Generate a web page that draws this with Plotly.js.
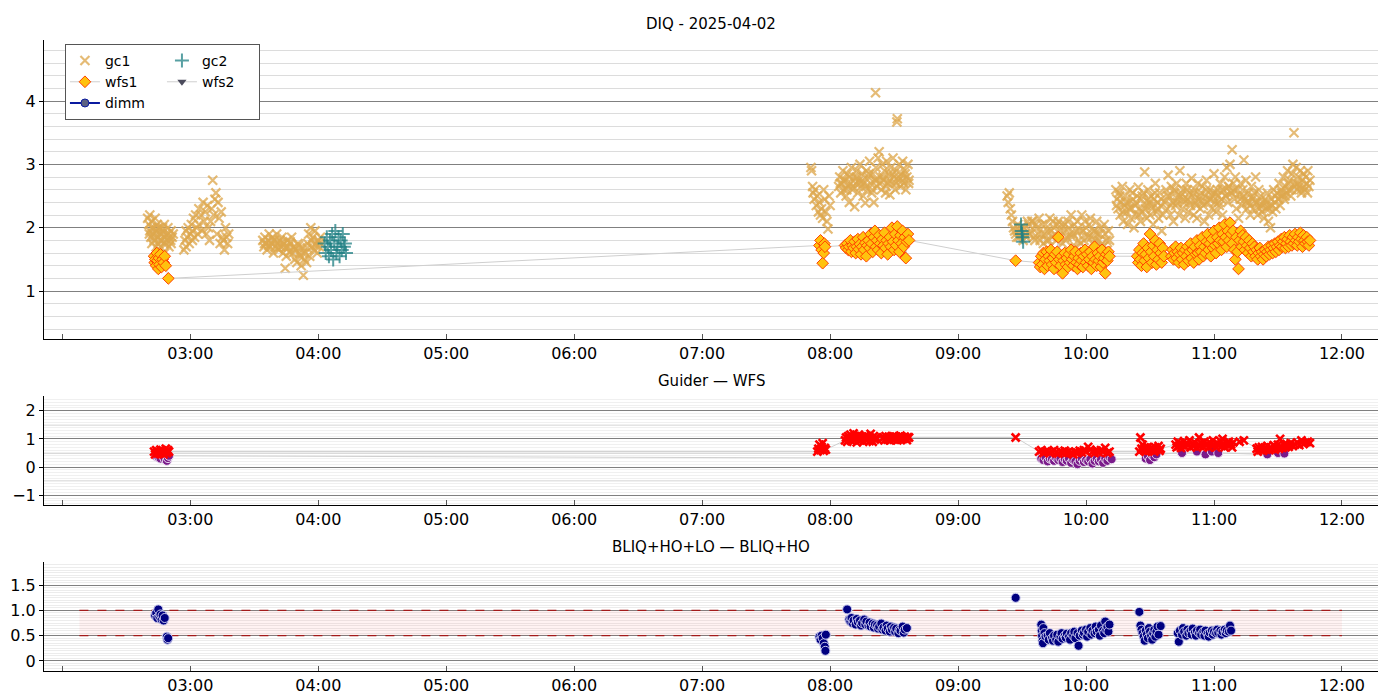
<!DOCTYPE html>
<html>
<head>
<meta charset="utf-8">
<script src="https://cdn.plot.ly/plotly-3.0.1.min.js"></script>
<style>body{margin:0;background:#fff}</style>
</head>
<body>
<div id="chart" style="width:1400px;height:700px"></div>
<script>
// DIQ night 2025-04-02 -- all times are minutes after 00:00

const day = "2025-04-02";

// x axis hours (02:00 tick carries no label)
const hourTicks = [120, 180, 240, 300, 360, 420, 480, 540, 600, 660, 720];
const hourLabels = ["", "03:00", "04:00", "05:00", "06:00", "07:00", "08:00", "09:00", "10:00", "11:00", "12:00"];

// ---- top panel: DIQ ----
// gc1 (markers only)
const gc1Times = [
  160,160.5,161,161,161.5,162,162,162.5,163,163,163.5,164,164,164.5,165,165,165.5,166,166,166.5,167,167,167.5,168,168,168.5,169,169.5,170,170,171,171,172,
  160.8,161.8,162.8,163.8,164.8,165.8,166.8,167.8,168.8,169.8,170.8,171.5,
  177,177.5,178,178,178.5,179,179.5,180,180.5,181,181,181.5,182,182.5,183,183.5,184,184,185,185.5,186,186.5,187,187.5,188,
  188.5,189,189.5,190,190.5,191,191.5,192,192.5,193,193.5,194,194.5,195,195.5,196,196.5,197,197.5,198,
  214,214.5,215,215.5,216,216.5,217,217.5,218,218.5,219,219.5,220,220.5,221,221.5,222,222.5,223,223.5,
  224,224.5,224.5,225,225.5,226,226.5,227,227.5,228,228.5,229,229.5,230,230.5,231,231.5,232,232.5,233,
  233.5,234,234.5,235,235.5,236,236.5,237,237.5,238,238.5,239,239.5,240,240.5,241,
  214.8,216.8,218.8,220.8,222.8,224.8,226.8,228.8,230.8,232.8,234.8,236.8,238.8,240.8,
  471,471.3,471.8,472,472.5,473,473.5,474,474.5,475,475.5,476,476.5,477,477.5,478,478.5,479,479.5,480,
  484,484.5,485,485.5,486,486.5,487,487.5,488,488.5,489,489.5,490,490.5,491,491.5,492,492.5,493,493.5,
  494,494.5,495,495.5,496,496.5,497,497.5,498,498.5,499,499.5,500,500.5,501,501.3,501.5,502,502.5,503,
  503.5,504,504.5,505,505.5,506,506.5,507,507.5,508,508.5,509,509.5,510,510.5,511,511.3,511.5,512,512.5,
  513,513.5,514,514.5,515,515.5,516,516.5,517,
  484.8,486.2,487.8,489.2,490.8,492.2,493.8,495.2,496.8,498.2,499.8,501.8,503.2,504.8,506.2,507.8,509.2,510.8,512.2,513.8,515.2,516.8,
  563,563.5,564,564.5,565,565.5,566,566.5,567,567.5,568,569,570,571,572,573,574,574.5,575,576,
  577,578,579,580,581,582,582.5,583,584,585,586,587,588,588.5,589,590,591,592,593,594,
  595,596,597,597.5,598,599,600,601,602,603,604,605,605.5,606,607,608,609,610,611,
  568.5,569.5,570.5,571.5,572.5,573.5,575.5,576.5,577.5,578.5,579.5,580.5,581.5,583.5,584.5,585.5,586.5,587.5,589.5,590.5,
  591.5,592.5,593.5,594.5,595.5,596.5,598.5,599.5,600.5,601.5,602.5,603.5,604.5,606.5,607.5,608.5,609.5,610.5,
  614,614.5,615,615.5,616,616.5,617,617.5,618,618.5,619,619.5,620,620.5,621,621.5,622,622.5,623,623.5,
  624,624.5,625,625.5,626,626.5,627,627.5,628,628.5,629,629.5,630,630.5,631,631.5,632,632.5,633,633.5,
  634,634.5,635,635.5,636,
  637,637.5,638,638.5,639,639.5,640,640.5,641,641.5,642,642.5,643,643.5,644,644.5,645,645.5,646,646.5,
  647,647.5,648,648.5,649,649.5,650,650.5,651,651.5,652,652.5,653,653.5,654,654.5,655,655.5,656,656.5,
  657,657.5,658,658.5,659,659.5,660,660.5,661,661.5,662,662.5,663,663.5,664,664.5,665,665.5,666,666.5,
  667,667.5,668,668.5,669,669.5,670,670.5,671,671.5,
  672,672.5,673,673.5,674,674.5,675,675.5,676,676.5,677,677.5,678,678.5,679,679.5,680,680.5,681,681.5,
  682,682.5,683,683.5,684,684.5,685,685.5,686,686.5,687,687.5,688,688.5,689,689.5,690,690.5,691,691.5,
  692,692.5,693,693.5,694,694.5,695,695.5,696,696.5,697,697.5,698,698.5,699,699.5,700,700.5,701,701.5,
  702,702.5,703,703.5,704,704.5,705,
  614.3,615.8,617.3,618.8,620.3,621.8,623.3,624.8,626.3,627.8,629.3,630.8,632.3,633.8,635.3,638.3,639.8,641.3,642.8,644.3,
  645.8,647.3,648.8,650.3,651.8,653.3,654.8,656.3,657.8,659.3,660.8,662.3,663.8,665.3,666.8,668.3,669.8,672.3,673.8,675.3,
  676.8,678.3,679.8,681.3,682.8,684.3,685.8,687.3,688.8,690.3,691.8,693.3,694.8,696.3,697.8,699.3,700.8,702.3,703.8
];
const gc1Vals = [
  2.15,2.05,1.95,2.2,1.85,2.1,1.75,1.9,2.0,1.8,2.15,1.7,1.95,2.05,1.85,1.75,2.0,1.9,1.7,1.8,1.95,2.0,1.75,1.85,1.6,1.9,1.8,2.0,1.7,1.85,1.95,1.75,1.9,
  1.9,2.0,1.85,1.95,2.0,1.8,1.9,2.05,1.75,1.9,1.8,1.85,
  1.65,1.8,1.95,1.7,1.85,2.0,1.75,1.9,2.05,1.8,1.95,2.15,1.85,2.2,2.0,1.9,2.3,2.05,2.2,1.95,2.4,2.1,2.25,1.9,2.35,
  2.0,1.8,2.1,2.3,2.75,2.2,2.45,2.55,1.9,2.4,2.15,1.75,2.25,1.85,1.8,1.65,2.0,1.85,1.75,1.9,
  1.8,1.7,1.85,1.75,1.65,1.8,1.9,1.7,1.75,1.85,1.6,1.8,1.7,1.9,1.75,1.65,1.8,1.7,1.85,1.6,
  1.75,1.68,1.36,1.55,1.8,1.7,1.62,1.75,1.85,1.6,1.7,1.5,1.65,1.45,1.75,1.6,1.55,1.4,1.7,1.25,
  1.5,1.6,1.45,1.75,1.9,1.55,2.0,1.7,1.85,1.65,1.95,1.75,1.6,1.8,1.7,1.85,
  1.75,1.72,1.8,1.68,1.76,1.7,1.78,1.66,1.72,1.6,1.68,1.8,1.72,1.76,
  2.95,2.9,2.65,2.55,2.45,2.6,2.35,2.5,2.25,2.4,2.2,2.3,2.15,2.6,2.45,2.25,2.1,1.98,2.5,2.35,
  2.65,2.8,2.55,2.7,2.9,2.6,2.75,2.5,2.85,2.65,2.4,2.7,2.95,2.6,2.8,2.33,2.7,2.9,2.55,2.75,
  3.0,2.65,2.85,2.5,2.7,2.39,2.9,2.6,2.8,3.05,2.7,2.55,2.85,2.4,2.75,4.13,2.95,2.65,3.1,3.2,
  2.8,2.6,3.0,2.75,2.9,2.55,3.05,2.7,2.85,2.52,2.95,2.7,3.1,2.8,2.6,2.9,3.67,3.72,2.75,3.0,
  2.65,2.85,3.05,2.7,2.9,2.6,2.8,3.0,2.75,
  2.7,2.75,2.6,2.8,2.65,2.8,2.7,2.75,2.65,2.85,2.6,2.75,2.7,2.8,2.65,2.75,2.85,2.7,2.8,2.75,2.85,2.7,
  2.5,2.4,2.55,2.3,2.2,2.1,2.0,1.95,1.9,1.85,2.05,1.95,1.9,2.0,1.85,2.05,1.95,2.1,2.1,1.8,
  2.0,2.15,1.9,1.75,2.05,1.95,1.8,2.15,1.85,2.0,1.8,2.1,1.95,2.05,1.75,2.05,1.85,2.0,2.2,1.9,
  1.7,2.1,1.95,1.75,2.2,1.8,2.0,1.85,2.15,1.75,1.95,2.1,1.9,1.8,2.0,1.7,1.9,1.65,1.8,
  1.85,2.0,1.8,1.9,2.1,1.9,1.85,2.05,1.9,1.8,2.05,1.9,1.8,1.95,2.1,1.9,2.05,1.85,1.95,1.8,
  2.1,1.9,1.85,2.05,1.95,1.8,1.95,2.1,1.9,2.05,1.85,1.95,1.8,1.9,1.75,2.05,1.8,1.95,
  2.6,2.45,2.3,2.55,2.2,2.4,2.65,2.1,2.35,2.5,2.25,2.05,2.4,2.6,2.15,2.3,2.45,2.0,2.35,2.2,
  2.5,2.64,2.3,2.1,2.45,2.25,2.55,2.88,2.35,2.15,2.6,2.4,2.2,2.5,2.3,2.05,2.45,2.7,2.25,2.4,
  2.15,2.55,2.35,1.95,2.2,
  2.4,2.6,2.3,2.83,2.5,2.2,2.65,2.4,2.1,2.55,2.35,2.7,2.45,2.2,2.9,2.55,2.3,2.6,2.4,2.15,
  2.7,2.45,2.25,2.55,2.35,2.78,2.5,2.2,2.6,2.4,2.15,2.7,2.45,2.3,2.55,2.65,2.35,2.1,2.5,2.75,
  2.4,2.2,2.6,2.45,2.3,2.55,2.85,2.4,2.25,2.6,2.5,2.35,2.7,2.45,2.2,2.6,2.8,2.5,2.95,2.4,
  2.65,3.0,2.55,3.23,2.7,2.45,2.8,2.3,2.6,2.15,
  2.5,2.7,2.35,2.6,3.07,2.45,2.75,2.3,2.55,2.4,2.2,2.65,2.45,2.3,2.55,2.8,2.4,2.2,2.6,2.35,
  2.5,2.25,2.4,2.15,2.45,2.3,2.55,2.1,2.35,2.0,2.45,2.25,2.6,2.4,2.3,2.55,2.45,2.7,2.35,2.6,
  2.5,2.8,2.45,2.65,2.55,2.9,2.6,2.75,2.5,2.85,3.0,3.5,2.7,2.95,2.6,2.8,2.65,2.9,2.55,2.75,
  2.85,2.6,2.8,2.7,2.9,2.65,2.75,
  2.35,2.5,2.25,2.4,2.3,2.55,2.4,2.2,2.5,2.3,2.45,2.35,2.55,2.3,2.45,2.5,2.35,2.6,2.4,2.5,
  2.45,2.6,2.4,2.55,2.35,2.5,2.4,2.6,2.45,2.5,2.55,2.4,2.6,2.5,2.65,2.55,2.6,2.45,2.5,2.4,
  2.35,2.5,2.4,2.3,2.35,2.4,2.3,2.35,2.5,2.45,2.55,2.5,2.7,2.6,2.65,2.7,2.6,2.65,2.55
];

// gc2
const gc2Times = [243,243.5,244,244.5,245,245.5,246,246.5,247,247.5,248,248.5,249,249.5,250,250.5,251,251.5,252,252.5,253,
  569.5,569.8,570,570.2,570.5];
const gc2Vals = [1.75,1.6,1.85,1.7,1.55,1.8,1.65,1.9,1.5,1.75,1.95,1.6,1.7,1.85,1.55,1.8,1.65,1.9,1.7,1.75,1.6,
  2.05,1.95,1.9,1.85,1.78];

// wfs1 (joined by a thin line, time ordered)
const wfs1Times = [
  163,163.3,163.6,164,164.3,164.6,165,165.3,165.6,166,166.5,167,167.5,168,168.5,169.7,
  475,475.5,476,476.5,477,477.3,477.6,
  487,487.5,488,488.5,489,489.5,490,490.5,491,491.5,492,492.5,493,493.5,494,494.5,495,495.5,496,496.5,
  497,497.5,498,498.5,499,499.5,500,500.5,501,501.5,502,502.5,503,503.5,504,504.5,505,505.5,506,506.5,
  507,507.5,508,508.5,509,509.5,510,510.5,511,511.5,512,512.5,513,513.5,514,514.5,515,515.5,516,516.5,517,
  567,
  578,578.5,579,579.5,580,580.5,581,581.5,582,582.5,583,583.5,584,584.5,585,585.5,586,586.5,587,587.5,
  588,588.5,589,589.5,590,590.5,591,591.5,592,592.5,593,593.5,594,594.5,595,595.5,596,596.5,597,597.5,
  598,598.5,599,599.5,600,600.5,601,601.5,602,602.5,603,603.5,604,604.5,605,605.5,606,606.5,607,607.5,
  608,608.5,609,609.5,610,610.5,611,
  624,624.5,625,625.5,626,626.5,627,627.5,628,628.5,629,629.5,630,630.5,631,631.5,632,632.5,633,633.5,
  634,634.5,635,635.5,636,636.5,
  640,640.5,641,641.5,642,642.5,643,643.5,644,644.5,645,645.5,646,646.5,647,647.5,648,648.5,649,649.5,
  650,650.5,651,651.5,652,652.5,653,653.5,654,654.5,655,655.5,656,656.5,657,657.5,658,658.5,659,659.5,
  660,660.5,661,661.5,662,662.5,663,663.5,664,664.5,665,665.5,666,666.5,667,667.5,668,668.5,669,669.5,
  670,670.5,671,671.5,672,672.5,673,673.5,674,674.5,675,675.5,676,676.5,677,677.5,678,678.5,679,679.5,
  680,680.5,681,681.5,682,682.5,683,683.5,684,684.5,685,685.5,686,686.5,687,687.5,688,688.5,689,689.5,
  690,690.5,691,691.5,692,692.5,693,693.5,694,694.5,695,695.5,696,696.5,697,697.5,698,698.5,699,699.5,
  700,700.5,701,701.5,702,702.5,703,703.5,704,704.5,705
];
const wfs1Vals = [
  1.55,1.45,1.5,1.4,1.6,1.48,1.35,1.52,1.42,1.58,1.38,1.5,1.45,1.55,1.4,1.2,
  1.72,1.8,1.65,1.44,1.6,1.75,1.7,
  1.72,1.68,1.75,1.65,1.7,1.8,1.62,1.72,1.68,1.78,1.6,1.7,1.82,1.66,1.74,1.58,1.7,1.85,1.65,1.76,
  1.55,1.72,1.8,1.68,1.9,1.75,1.62,1.85,1.95,1.7,1.8,1.65,1.88,1.75,1.6,1.82,1.72,1.92,1.68,1.8,
  1.58,1.75,1.85,1.7,2.0,1.78,1.65,1.9,1.72,2.02,1.8,1.62,1.88,1.75,1.95,1.7,1.85,1.52,1.78,1.9,1.8,
  1.48,
  1.45,1.38,1.55,1.42,1.6,1.35,1.5,1.62,1.4,1.55,1.48,1.65,1.42,1.52,1.35,1.58,1.45,1.62,1.85,1.5,
  1.4,1.55,1.28,1.48,1.6,1.42,1.52,1.38,1.58,1.45,1.65,1.5,1.4,1.55,1.62,1.45,1.35,1.52,1.42,1.6,
  1.48,1.38,1.55,1.65,1.45,1.58,1.4,1.5,1.62,1.35,1.55,1.45,1.7,1.5,1.4,1.6,1.48,1.55,1.38,1.65,
  1.45,1.52,1.28,1.58,1.48,1.62,1.55,
  1.55,1.45,1.65,1.5,1.4,1.6,1.75,1.48,1.58,1.38,1.68,1.52,1.9,1.62,1.45,1.72,1.55,1.8,1.42,1.65,
  1.5,1.75,1.6,1.45,1.68,1.55,
  1.55,1.65,1.5,1.6,1.7,1.52,1.62,1.45,1.58,1.68,1.5,1.6,1.42,1.65,1.55,1.7,1.48,1.62,1.75,1.52,
  1.65,1.45,1.7,1.58,1.8,1.6,1.5,1.72,1.62,1.85,1.55,1.7,1.6,1.78,1.9,1.65,1.75,1.55,1.82,1.68,
  1.95,1.72,1.6,1.85,1.75,2.0,1.8,1.65,1.9,1.78,2.05,1.85,1.7,1.95,1.8,2.08,1.9,1.75,1.95,1.65,
  1.5,1.85,1.62,1.35,1.8,1.95,1.7,1.88,1.78,1.65,1.85,1.72,1.6,1.8,1.68,1.55,1.75,1.62,1.7,1.55,
  1.65,1.5,1.6,1.68,1.55,1.62,1.5,1.58,1.65,1.55,1.62,1.7,1.58,1.65,1.72,1.6,1.68,1.75,1.62,1.7,
  1.78,1.65,1.72,1.82,1.7,1.78,1.85,1.68,1.75,1.82,1.7,1.88,1.78,1.72,1.85,1.75,1.9,1.8,1.72,1.85,
  1.78,1.92,1.82,1.7,1.88,1.8,1.75,1.85,1.78,1.72,1.8
];

// wfs2 and dimm: no valid readings this night (single empty slot keeps them in the legend)
const wfs2Times = [null], wfs2Vals = [null];
const dimmTimes = [null], dimmVals = [null];

// ---- middle panel: Guider - WFS ----
const guiderTimes = [
  163,163.5,164,164.5,165,165.5,166,166.5,167,167.5,168,168.5,169,169.5,170,
  474,474.5,475,475.5,476,476.5,477,477.5,478,
  487,487.5,488,488.5,489,489.5,490,490.5,491,491.5,492,492.5,493,493.5,494,494.5,495,495.5,496,496.5,
  497,497.5,498,498.5,499,499.5,500,500.5,501,501.5,502,
  505,505.5,506,506.5,507,507.5,508,508.5,509,509.5,510,510.5,511,511.5,512,512.5,513,513.5,514,514.5,
  515,515.5,516,516.5,517,
  567,
  578,579,580,581,582,583,584,585,586,587,588,589,590,591,592,593,594,595,596,597,
  598,599,600,601,602,603,604,605,606,607,608,609,610,611,
  625,625.5,626,626.5,627,627.5,628,628.5,629,629.5,630,630.5,631,632,632.5,633,634,634.5,635,
  642,642.5,643,643.5,644,644.5,645,646,646.5,647,648,648.5,649,650,650.5,651,652,652.5,653,653.5,
  654,655,655.5,656,657,657.5,658,659,659.5,660,661,661.5,662,663,663.5,664,664.5,665,666,666.5,
  667,668,668.5,669,
  672,674,
  680,680.5,681,682,682.5,683,684,684.5,685,686,686.5,687,688,688.5,689,690,690.5,691,691.5,692,
  693,693.5,694,695,695.5,696,697,698,699,700,701,702,703,704,705
];
const guiderVals = [
  0.55,0.45,0.6,0.5,0.55,0.48,0.62,0.52,0.58,0.45,0.55,0.65,0.5,0.6,0.55,
  0.55,0.65,0.8,0.6,0.72,0.85,0.58,0.68,0.62,
  0.95,1.05,0.9,1.1,1.0,1.15,0.92,1.05,1.2,0.98,1.1,0.88,1.02,1.15,0.95,1.08,1.0,0.9,1.05,1.12,
  0.95,1.0,1.08,0.92,1.18,1.02,0.9,1.1,0.98,1.05,1.0,
  1.05,0.95,1.1,1.0,0.98,1.08,0.95,1.05,1.0,1.1,0.98,1.02,1.08,0.95,1.05,1.0,1.12,0.98,1.05,1.0,
  1.08,1.02,0.96,1.06,1.05,
  1.05,
  0.55,0.6,0.5,0.55,0.58,0.5,0.55,0.6,0.52,0.48,0.55,0.5,0.58,0.52,0.55,0.5,0.45,0.55,0.5,0.58,
  0.52,0.6,0.55,0.72,0.62,0.55,0.5,0.58,0.52,0.6,0.55,0.68,0.5,0.55,
  0.55,1.05,0.65,0.8,0.6,0.7,0.55,0.62,0.72,0.58,0.65,0.6,0.68,0.55,0.7,0.62,0.75,0.58,0.65,
  0.8,0.7,0.9,0.75,0.85,0.68,0.8,0.92,0.72,0.85,0.78,0.95,0.7,0.82,0.75,0.88,0.7,0.8,1.05,0.75,
  0.85,0.72,0.9,0.78,0.82,0.7,0.88,0.75,0.95,0.8,0.7,0.85,0.78,0.92,0.75,1.0,0.82,0.7,0.85,0.78,
  0.9,0.8,0.7,0.88,
  0.9,0.95,
  0.65,0.55,0.7,0.6,0.72,0.58,0.68,0.62,0.75,0.6,0.7,0.65,0.78,0.62,0.7,0.8,0.65,1.0,0.72,0.68,
  0.78,0.7,0.82,0.72,0.78,0.85,0.75,0.8,0.88,0.78,0.95,0.82,0.88,0.9,0.85
];
const wfsDiffTimes = [
  164,165,166,167,168,169,169.5,170,
  579,580,581,582,583,584,585,586,587,588,589,590,591,592,593,594,595,596,597,598,
  599,600,601,602,603,604,605,606,607,608,609,610,611,612,
  628,629,630,631,632,633,
  645,652,656,659,662,
  685,690,693
];
const wfsDiffVals = [
  0.38,0.35,0.3,0.4,0.28,0.22,0.32,0.4,
  0.3,0.25,0.35,0.2,0.3,0.28,0.22,0.32,0.25,0.3,0.18,0.28,0.22,0.3,0.15,0.25,0.2,0.1,0.22,0.3,
  0.18,0.25,0.2,0.28,0.12,0.22,0.3,0.2,0.26,0.15,0.3,0.22,0.35,0.28,
  0.3,0.38,0.25,0.42,0.35,0.45,
  0.5,0.55,0.45,0.55,0.5,
  0.45,0.5,0.48
];

// ---- bottom panel: BLIQ+HO+LO - BLIQ+HO ----
const bliqTimes = [
  163.5,164,164.5,165,165.5,166,166.5,167,167.5,168,169,169.3,169.6,
  475,475.5,476,476.5,477,477.5,477.8,478,
  488,489,489.5,490,490.5,491,492,492.5,493,494,494.5,495,496,496.5,497,498,498.5,499,500,500.5,
  501,502,502.5,503,504,504.5,505,506,506.5,507,508,508.5,509,510,510.5,511,512,512.5,513,514,
  514.5,515,516,
  567,
  579,579.2,579.4,579.6,579.8,580,580.5,581,582,582.5,583,584,584.5,585,586,586.5,587,588,588.5,589,
  590,590.5,591,592,592.5,593,594,594.5,595,596,596.5,597,598,598.5,599,600,600.5,601,602,602.5,
  603,604,604.5,605,606,606.5,607,608,608.5,609,609.5,610,610.5,611,
  625,625.5,626,626.5,627,627.5,628,628.5,629,629.5,630,630.5,631,631.5,632,632.5,633,633.5,634,635,
  643,643.5,644,645,645.5,646,647,647.5,648,649,649.5,650,651,651.5,652,653,653.5,654,655,655.5,
  656,657,657.5,658,659,659.5,660,661,661.5,662,663,663.5,664,665,665.5,666,667,667.5,668
];
const bliqVals = [
  0.9,0.95,0.85,1.02,0.88,0.92,0.82,0.9,0.8,0.85,0.48,0.42,0.45,
  0.48,0.42,0.5,0.45,0.35,0.28,0.2,0.52,
  1.02,0.82,0.78,0.85,0.75,0.8,0.72,0.83,0.77,0.8,0.7,0.75,0.82,0.72,0.78,0.7,0.76,0.68,0.74,0.66,
  0.72,0.7,0.64,0.68,0.74,0.62,0.66,0.6,0.7,0.64,0.58,0.68,0.62,0.66,0.58,0.64,0.55,0.62,0.6,0.68,
  0.56,0.62,0.65,
  1.25,
  0.72,0.6,0.5,0.4,0.35,0.65,0.55,0.48,0.5,0.42,0.55,0.45,0.4,0.5,0.42,0.52,0.38,0.48,0.55,0.44,
  0.5,0.46,0.54,0.48,0.42,0.55,0.5,0.58,0.45,0.55,0.3,0.5,0.6,0.52,0.56,0.62,0.48,0.58,0.65,0.52,
  0.6,0.55,0.68,0.58,0.62,0.5,0.7,0.6,0.55,0.78,0.62,0.68,0.58,0.72,
  0.97,0.7,0.62,0.55,0.48,0.4,0.6,0.52,0.45,0.65,0.58,0.5,0.42,0.55,0.62,0.48,0.58,0.68,0.52,0.69,
  0.55,0.38,0.6,0.52,0.65,0.58,0.5,0.62,0.55,0.6,0.52,0.64,0.56,0.5,0.6,0.55,0.62,0.52,0.58,0.5,
  0.6,0.54,0.48,0.56,0.6,0.52,0.58,0.55,0.62,0.56,0.6,0.52,0.58,0.62,0.55,0.6,0.58,0.7,0.6
];

// target band
const bandTimes = [128, 720];
const bandLow = [0.5, 0.5];
const bandHigh = [1.0, 1.0];

// half-unit guide lines in the middle panel
const guiderHalfLines = [-0.5, 0.5, 1.5];

function pad(n) {
  return String(n).padStart(2, "0");
}

// minutes after midnight -> plotly date string
function stamp(min) {
  if (min === null) return null;
  const h = Math.floor(min / 60);
  const m = Math.floor(min % 60);
  const s = Math.min(59, Math.round((min % 1) * 60));
  return `${day} ${pad(h)}:${pad(m)}:${pad(s)}`;
}

const grayLine = { color: "#cfcfcf", width: 1 };
const font = { family: "DejaVu Sans, sans-serif", size: 15, color: "#000" };
const tickFont = { family: "DejaVu Sans, sans-serif", size: 16, color: "#000" };

const traces = [
  {
    name: "gc1",
    legendgroup: "a",
    x: gc1Times.map(stamp),
    y: gc1Vals,
    mode: "markers",
    marker: { symbol: "x-thin-open", size: 9, color: "rgba(222,168,78,0.78)", line: { width: 2.2 } },
  },
  {
    name: "gc2",
    legendgroup: "b",
    x: gc2Times.map(stamp),
    y: gc2Vals,
    mode: "markers",
    marker: { symbol: "cross-thin-open", size: 10, color: "rgba(32,128,132,0.75)", line: { width: 2 } },
  },
  {
    name: "wfs1",
    legendgroup: "a",
    x: wfs1Times.map(stamp),
    y: wfs1Vals,
    mode: "lines+markers",
    line: grayLine,
    marker: { symbol: "diamond", size: 9, color: "#ffc20e", line: { color: "#ff4000", width: 1 } },
  },
  {
    name: "wfs2",
    legendgroup: "b",
    x: wfs2Times.map(stamp),
    y: wfs2Vals,
    mode: "lines+markers",
    line: grayLine,
    marker: { symbol: "triangle-down", size: 8, color: "#4b4b5c" },
  },
  {
    name: "dimm",
    legendgroup: "a",
    x: dimmTimes.map(stamp),
    y: dimmVals,
    mode: "lines+markers",
    line: { color: "#0a1aa0", width: 2 },
    marker: { symbol: "circle", size: 8, color: "#5c6282", line: { color: "#0a1aa0", width: 1 } },
  },
  {
    name: "wfs",
    showlegend: false,
    xaxis: "x2",
    yaxis: "y2",
    x: wfsDiffTimes.map(stamp),
    y: wfsDiffVals,
    mode: "lines+markers",
    line: grayLine,
    marker: { symbol: "circle", size: 9, color: "#7a1a8a", line: { color: "#e8dcef", width: 1 } },
  },
  {
    name: "guider",
    showlegend: false,
    xaxis: "x2",
    yaxis: "y2",
    x: guiderTimes.map(stamp),
    y: guiderVals,
    mode: "lines+markers",
    line: grayLine,
    marker: { symbol: "x-thin-open", size: 8, color: "#ff0000", line: { width: 2.6 } },
  },
  {
    showlegend: false,
    xaxis: "x3",
    yaxis: "y3",
    x: bandTimes.map(stamp),
    y: bandLow,
    mode: "lines",
    line: { color: "#a31b1b", width: 1.2, dash: "dash" },
    hoverinfo: "skip",
  },
  {
    showlegend: false,
    xaxis: "x3",
    yaxis: "y3",
    x: bandTimes.map(stamp),
    y: bandHigh,
    mode: "lines",
    fill: "tonexty",
    fillcolor: "rgba(255,0,0,0.05)",
    line: { color: "#a31b1b", width: 1.2, dash: "dash" },
    hoverinfo: "skip",
  },
  {
    name: "bliq",
    showlegend: false,
    xaxis: "x3",
    yaxis: "y3",
    x: bliqTimes.map(stamp),
    y: bliqVals,
    mode: "markers",
    marker: { symbol: "circle", size: 9, color: "#000080", line: { color: "#c8c8ee", width: 1 } },
  },
];

function timeAxis(anchor) {
  return {
    type: "date",
    anchor: anchor,
    domain: [0, 1],
    range: [stamp(111.4), stamp(736.9)],
    tickmode: "array",
    tickvals: hourTicks.map(stamp),
    ticktext: hourLabels,
    ticks: "inside",
    ticklen: 5,
    tickcolor: "#555",
    showline: true,
    linecolor: "#000",
    linewidth: 1,
    showgrid: false,
    zeroline: false,
    tickfont: tickFont,
    automargin: false,
  };
}

function valueAxis(anchor, domain, range, ticks, labels, minorStep, minorColor) {
  return {
    anchor: anchor,
    domain: domain,
    range: range,
    tickmode: "array",
    tickvals: ticks,
    ticktext: labels,
    ticks: "outside",
    ticklen: 4,
    tickcolor: "#000",
    showline: true,
    linecolor: "#000",
    linewidth: 1,
    showgrid: true,
    gridcolor: "#808080",
    gridwidth: 1,
    zeroline: false,
    tickfont: tickFont,
    automargin: false,
    minor: { dtick: minorStep, tick0: 0, showgrid: true, gridcolor: minorColor, gridwidth: 1, ticks: "" },
  };
}

const layout = {
  width: 1400,
  height: 700,
  margin: { l: 44, r: 22, t: 40, b: 29 },
  paper_bgcolor: "#fff",
  plot_bgcolor: "#fff",
  font: font,
  showlegend: true,
  xaxis: timeAxis("y"),
  yaxis: valueAxis("x", [0.526, 1], [0.242, 4.963], [1, 2, 3, 4], ["1", "2", "3", "4"], 0.2, "#dcdcdc"),
  xaxis2: timeAxis("y2"),
  yaxis2: valueAxis("x2", [0.263, 0.436], [-1.35, 2.53], [-1, 0, 1, 2], ["−1", "0", "1", "2"], 0.1, "#f0f0f0"),
  xaxis3: timeAxis("y3"),
  yaxis3: valueAxis("x3", [0, 0.172], [-0.2, 1.95], [0, 0.5, 1, 1.5], ["0", "0.5", "1.0", "1.5"], 0.05, "#ececec"),
  legend: {
    x: 0.0157,
    y: 0.9937,
    xanchor: "left",
    yanchor: "top",
    orientation: "h",
    traceorder: "grouped",
    tracegroupgap: 16,
    entrywidth: 52,
    entrywidthmode: "pixels",
    bgcolor: "#fff",
    bordercolor: "#555",
    borderwidth: 1,
    font: { family: "DejaVu Sans, sans-serif", size: 14, color: "#000" },
  },
  shapes: guiderHalfLines.map((v) => ({
    type: "line",
    xref: "x2 domain",
    yref: "y2",
    x0: 0,
    x1: 1,
    y0: v,
    y1: v,
    layer: "below",
    line: { color: "#b4b4b4", width: 1 },
  })),
  annotations: [
    { text: "DIQ - 2025-04-02", xref: "paper", yref: "paper", x: 0.5, y: 1.0254, showarrow: false, font: font, yanchor: "middle" },
    { text: "Guider — WFS", xref: "paper", yref: "paper", x: 0.5, y: 0.4596, showarrow: false, font: font, yanchor: "middle" },
    { text: "BLIQ+HO+LO — BLIQ+HO", xref: "paper", yref: "paper", x: 0.5, y: 0.1965, showarrow: false, font: font, yanchor: "middle" },
  ],
};

Plotly.newPlot("chart", traces, layout, { staticPlot: true });
</script>
</body>
</html>
